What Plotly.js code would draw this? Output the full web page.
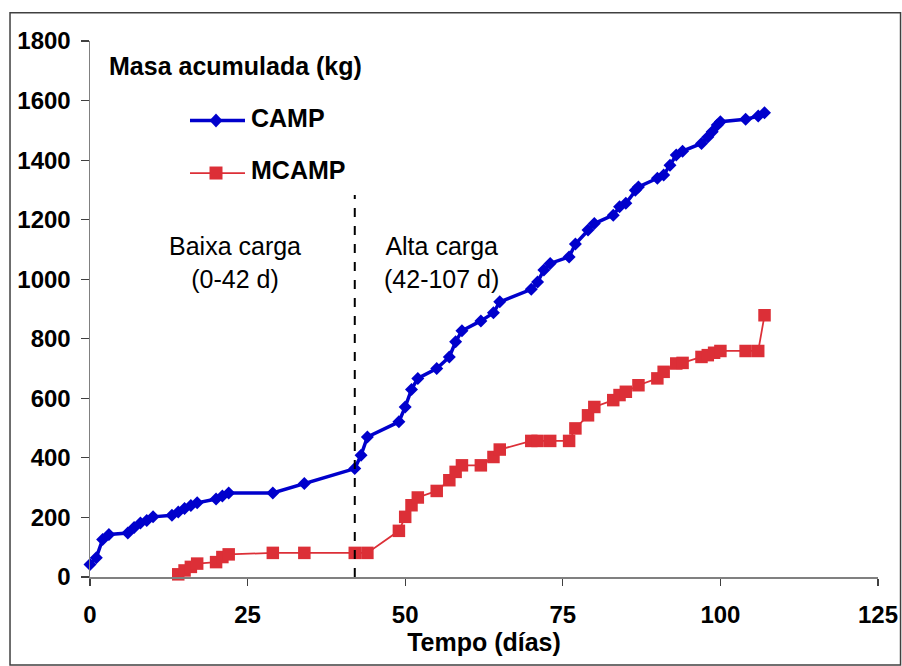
<!DOCTYPE html>
<html>
<head>
<meta charset="utf-8">
<script src="https://cdn.plot.ly/plotly-3.0.1.min.js"></script>
<style>
  html, body { margin: 0; padding: 0; background: #fff; }
  #chart { width: 902px; height: 666px; }
</style>
</head>
<body>
<div id="chart"></div>
<script>
// ---- data ----
const campDays = [0, 1, 2, 3, 6, 7, 8, 9, 10, 13, 14, 15, 16, 17, 20, 21, 22, 29, 34, 42, 43, 44,
  49, 50, 51, 52, 55, 57, 58, 59, 62, 64, 65, 70, 71, 72, 73, 76, 77, 79, 80, 83, 84, 85, 86.5, 87,
  90, 91, 92, 93, 94, 97, 98, 98.7, 99.5, 100, 104, 106, 107];
const campMass = [42, 65, 126, 143, 148, 166, 181, 190, 202, 207, 218, 230, 240, 249, 262, 272, 282, 282, 314, 364, 409, 470,
  521, 571, 630, 667, 700, 739, 790, 827, 860, 887, 924, 966, 991, 1031, 1053, 1075, 1118, 1165, 1187, 1215, 1243, 1255, 1299, 1310,
  1339, 1350, 1383, 1417, 1430, 1456, 1478, 1495, 1518, 1529, 1537, 1548, 1559];

const mcampDays = [14, 15, 16, 17, 20, 21, 22, 29, 34, 42, 44, 49, 50, 51, 52, 55, 57, 58, 59, 62, 64, 65,
  70, 71, 73, 76, 77, 79, 80, 83, 84, 85, 87, 90, 91, 93, 94, 97, 98, 99, 100, 104, 106, 107];
const mcampMass = [9, 22, 34, 45, 50, 67, 76, 81, 81, 81, 81, 155, 202, 241, 267, 289, 325, 353, 375, 375, 403, 428,
  457, 457, 457, 457, 499, 543, 571, 594, 611, 622, 644, 667, 689, 717, 719, 739, 745, 753, 759, 759, 759, 879];

const seriesNames = ["CAMP", "MCAMP"];
const xTicks = [0, 25, 50, 75, 100, 125];
const yTicks = [0, 200, 400, 600, 800, 1000, 1200, 1400, 1600, 1800];
const phaseSplitDay = 42;
const phaseLabels = ["Baixa carga<br>(0-42 d)", "Alta carga<br>(42-107 d)"];
const chartTitle = "Masa acumulada (kg)";
const xTitle = "Tempo (días)";

// ---- styles ----
const BLUE = "#0000CC";
const RED = "#DC2F37";
const FONT = "Arial, 'Liberation Sans', sans-serif";
const boldFont = (size) => ({ family: FONT, size: size, color: "#000", weight: "bold" });

const traces = [
  {
    x: campDays, y: campMass, name: seriesNames[0], type: "scatter", mode: "lines+markers",
    line: { color: BLUE, width: 3.5 },
    marker: { symbol: "diamond", size: 10, color: BLUE },
    showlegend: false, cliponaxis: false
  },
  {
    x: mcampDays, y: mcampMass, name: seriesNames[1], type: "scatter", mode: "lines+markers",
    line: { color: RED, width: 1.75 },
    marker: { symbol: "square", size: 12.5, color: RED },
    showlegend: false, cliponaxis: false
  }
];

// legend (drawn manually to match the reference look)
const legY = [0.8517, 0.7537];
const legX0 = 0.1269, legX1 = 0.1967, legMark = 0.1599;
const shapes = [
  // outer frame
  { type: "rect", xref: "paper", yref: "paper", x0: -0.1015, x1: 1.0286, y0: -0.1642, y1: 1.0528,
    line: { color: "#404040", width: 1.5 }, fillcolor: "rgba(0,0,0,0)", layer: "below" },
  // phase divider
  { type: "line", xref: "x", yref: "y", x0: phaseSplitDay, x1: phaseSplitDay, y0: 0, y1: 1283,
    line: { color: "#000", width: 2, dash: "dash" } },
  // legend lines
  { type: "line", xref: "paper", yref: "paper", x0: legX0, x1: legX1, y0: legY[0], y1: legY[0],
    line: { color: BLUE, width: 3.5 } },
  { type: "line", xref: "paper", yref: "paper", x0: legX0, x1: legX1, y0: legY[1], y1: legY[1],
    line: { color: RED, width: 1.75 } },
  // legend markers
  { type: "path", xref: "paper", yref: "paper", xsizemode: "pixel", ysizemode: "pixel",
    xanchor: legMark, yanchor: legY[0], path: "M0,-7 L6.5,0 L0,7 L-6.5,0 Z",
    fillcolor: BLUE, line: { color: BLUE, width: 0 } },
  { type: "path", xref: "paper", yref: "paper", xsizemode: "pixel", ysizemode: "pixel",
    xanchor: legMark, yanchor: legY[1], path: "M-6.5,-6.5 L6.5,-6.5 L6.5,6.5 L-6.5,6.5 Z",
    fillcolor: RED, line: { color: RED, width: 0 } }
];

const annotations = [
  { text: chartTitle, xref: "paper", yref: "paper", x: 0.021, y: 0.953, xanchor: "left", yanchor: "middle",
    showarrow: false, font: boldFont(25) },
  { text: seriesNames[0], xref: "paper", yref: "paper", x: 0.2020, y: legY[0] + 0.005, xanchor: "left", yanchor: "middle",
    showarrow: false, font: boldFont(25) },
  { text: seriesNames[1], xref: "paper", yref: "paper", x: 0.2020, y: legY[1] + 0.005, xanchor: "left", yanchor: "middle",
    showarrow: false, font: boldFont(25) },
  { text: phaseLabels[0], xref: "paper", yref: "paper", x: 0.184, y: 0.586, xanchor: "center", yanchor: "middle",
    showarrow: false, font: { family: FONT, size: 25, color: "#000" } },
  { text: phaseLabels[1], xref: "paper", yref: "paper", x: 0.4463, y: 0.586, xanchor: "center", yanchor: "middle",
    showarrow: false, font: { family: FONT, size: 25, color: "#000" } }
];

const layout = {
  width: 902, height: 666,
  margin: { l: 90, r: 24, t: 41, b: 89, pad: 0 },
  paper_bgcolor: "#fff", plot_bgcolor: "#fff",
  showlegend: false,
  font: { family: FONT, color: "#000" },
  xaxis: {
    range: [0, 125], tickvals: xTicks, ticktext: xTicks.map(String),
    showgrid: false, zeroline: false, showline: true, linecolor: "#808080", linewidth: 1.5,
    ticks: "outside", ticklen: 7, tickcolor: "#404040", tickwidth: 1.2,
    tickfont: boldFont(24), ticklabelstandoff: 9,
    title: { text: xTitle, font: boldFont(25), standoff: 4 }
  },
  yaxis: {
    range: [0, 1800], tickvals: yTicks, ticktext: yTicks.map(String),
    showgrid: false, zeroline: false, showline: true, linecolor: "#808080", linewidth: 1.5,
    ticks: "outside", ticklen: 8, tickcolor: "#404040", tickwidth: 1.2,
    tickfont: boldFont(24), ticklabelstandoff: 5
  },
  shapes: shapes,
  annotations: annotations
};

Plotly.newPlot("chart", traces, layout, { displayModeBar: false, staticPlot: true });
</script>
</body>
</html>
